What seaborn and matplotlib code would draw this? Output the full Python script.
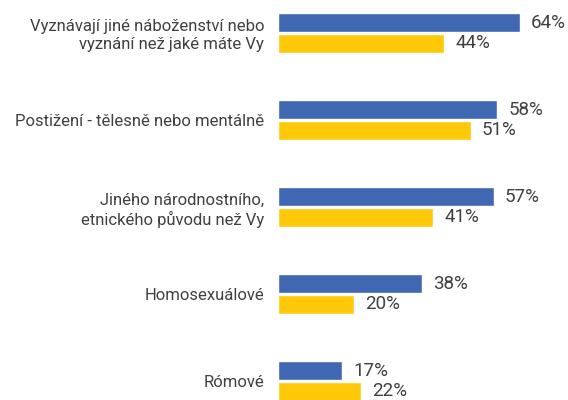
import matplotlib
matplotlib.use("Agg")
import matplotlib.pyplot as plt
import seaborn as sns
import pandas as pd

# data
categories = [
    "Vyznávají jiné náboženství nebo\nvyznání než jaké máte Vy",
    "Postižení - tělesně nebo mentálně",
    "Jiného národnostního,\netnického původu než Vy",
    "Homosexuálové",
    "Rómové",
]
series_names = ["A", "B"]
values_a = [64, 58, 57, 38, 17]
values_b = [44, 51, 41, 20, 22]
colors = ["#4068B2", "#FFC90A"]

df = pd.DataFrame({
    "kategorie": categories * 2,
    "serie": [series_names[0]] * 5 + [series_names[1]] * 5,
    "hodnota": values_a + values_b,
})

sns.set_style("white")
plt.rcParams["font.family"] = ["Liberation Sans Narrow", "Roboto", "DejaVu Sans"]

fig = plt.figure(figsize=(5.68, 4.0), dpi=100)
ax = fig.add_axes([278 / 568, 0, 1 - 278 / 568, 1])

sns.barplot(data=df, y="kategorie", x="hodnota", hue="serie", order=categories,
            hue_order=series_names, palette=colors, orient="h", saturation=1,
            width=0.48, gap=0.12, legend=False, ax=ax)

for cont in ax.containers:
    ax.bar_label(cont, labels=[f"{v:.0f}%" for v in cont.datavalues],
                 padding=8, fontsize=13.5, color="#404040")

ax.set_xlim(0, 76.7)
ax.set_ylim(4.218, -0.379)
ax.set_xlabel("")
ax.set_ylabel("")
ax.set_xticks([])
ax.tick_params(axis="y", length=0, pad=10)
for t in ax.get_yticklabels():
    t.set_fontsize(12)
    t.set_color("#404040")
    t.set_multialignment("right")
    t.set_linespacing(1.25)
sns.despine(ax=ax, left=True, bottom=True)

fig.savefig("out.png", dpi=100)
